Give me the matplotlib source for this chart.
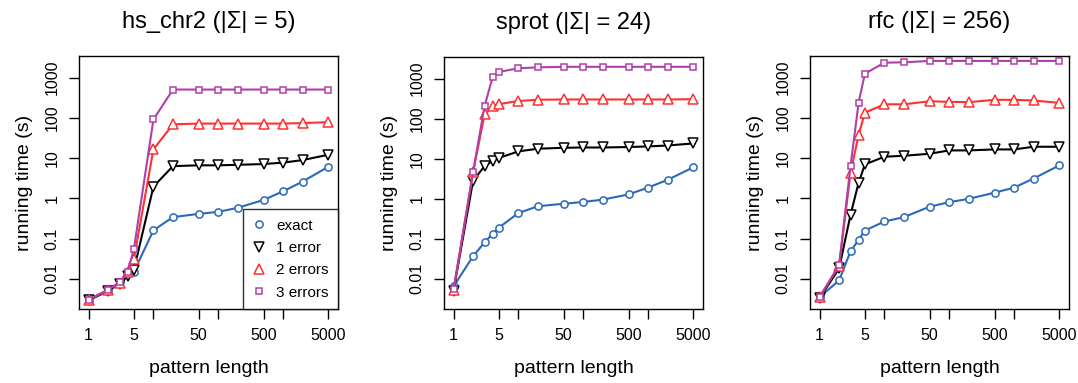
import numpy as np
import matplotlib
matplotlib.use("Agg")
import matplotlib.pyplot as plt
from matplotlib.ticker import FixedLocator, NullLocator, NullFormatter

plt.rcParams["font.family"] = ["Liberation Sans", "DejaVu Sans"]

lengths = [1, 2, 3, 4, 5, 10, 20, 50, 100, 200, 500, 1000, 2000, 5000]
titles = ["hs_chr2 (|Σ| = 5)", "sprot (|Σ| = 24)", "rfc (|Σ| = 256)"]
series_names = ["exact", "1 error", "2 errors", "3 errors"]

# running time (s) per panel, per series
hs_exact = [0.003, 0.0053, 0.0081, 0.0144, 0.015, 0.16, 0.34, 0.41, 0.46, 0.58, 0.91, 1.49, 2.6, 6.1]
hs_err1 = [0.0029, 0.005, 0.0075, 0.012, 0.0167, 1.95, 6.3, 6.6, 6.6, 6.8, 7.1, 7.7, 8.9, 12.1]
hs_err2 = [0.003, 0.0053, 0.008, 0.0145, 0.031, 16.4, 69, 72, 72, 72, 72, 72, 74, 78]
hs_err3 = [0.003, 0.0053, 0.0081, 0.015, 0.055, 91, 505, 505, 505, 505, 505, 505, 505, 505]

sp_exact = [0.0065, 0.037, 0.081, 0.135, 0.19, 0.44, 0.65, 0.75, 0.83, 0.95, 1.28, 1.9, 2.96, 6.1]
sp_err1 = [0.0051, 2.85, 6.45, 8.9, 10.4, 15.2, 17.7, 18.7, 19, 19, 19.5, 20.2, 21.3, 24]
sp_err2 = [0.0053, 4.6, 128, 203, 230, 275, 295, 300, 300, 300, 300, 300, 300, 305]
sp_err3 = [0.0055, 4.7, 203, 1080, 1460, 1800, 1900, 1960, 1960, 1960, 1960, 1960, 1960, 1960]

rf_exact = [0.0035, 0.0091, 0.048, 0.093, 0.158, 0.265, 0.34, 0.62, 0.80, 0.97, 1.38, 1.84, 3.1, 6.6]
rf_err1 = [0.0033, 0.018, 0.39, 2.45, 6.95, 10.8, 11.4, 12.8, 15.5, 15.5, 16.4, 16.4, 19.1, 19.1]
rf_err2 = [0.0035, 0.021, 4.3, 38, 135, 217, 217, 258, 250, 245, 280, 280, 270, 235]
rf_err3 = [0.0035, 0.022, 6.3, 240, 1255, 2350, 2400, 2600, 2600, 2600, 2600, 2600, 2600, 2600]

panels = [
    [hs_exact, hs_err1, hs_err2, hs_err3],
    [sp_exact, sp_err1, sp_err2, sp_err3],
    [rf_exact, rf_err1, rf_err2, rf_err3],
]

colors = ["#2a6ab8", "black", "#ff3030", "#b040a8"]
markers = ["o", "v", "^", "s"]
msizes = [5.2, 6.5, 6.5, 5.0]

W, H = 1078, 383
fig = plt.figure(figsize=(W / 100, H / 100), dpi=100)

# axes boxes in pixels: left, right, top, bottom
boxes = [(79, 338, 56, 309), (444, 703, 57, 309), (810, 1069, 56, 309)]

for p, (l, r, t, b) in enumerate(boxes):
    ax = fig.add_axes([l / W, 1 - b / H, (r - l) / W, (b - t) / H])
    for s in range(4):
        ax.plot(lengths, panels[p][s], color=colors[s], marker=markers[s],
                markersize=msizes[s], markerfacecolor="white", markeredgecolor=colors[s],
                markeredgewidth=1.1, linewidth=1.5, label=series_names[s])
    ax.set_xscale("log")
    ax.set_yscale("log")
    ax.set_xlim(10 ** -0.148, 10 ** 3.847)
    ax.set_ylim(0.00177, 3444)
    ax.xaxis.set_major_locator(FixedLocator([1, 5, 10, 50, 100, 500, 1000, 5000]))
    ax.set_xticklabels(["1", "5", "", "50", "", "500", "", "5000"])
    ax.xaxis.set_minor_locator(NullLocator())
    ax.xaxis.set_minor_formatter(NullFormatter())
    ax.yaxis.set_major_locator(FixedLocator([0.01, 0.1, 1, 10, 100, 1000]))
    ax.set_yticklabels(["0.01", "0.1", "1", "10", "100", "1000"], rotation=90, va="center")
    ax.yaxis.set_minor_locator(NullLocator())
    ax.tick_params(length=7, width=1, labelsize=11.5, pad=7)
    for sp in ax.spines.values():
        sp.set_linewidth(1)
    ax.set_xlabel("pattern length", fontsize=14, labelpad=12)
    ax.set_ylabel("running time (s)", fontsize=14, labelpad=8)
    ax.set_title(titles[p], fontsize=17, pad=20)
    if p == 0:
        leg = ax.legend(loc="lower right", fontsize=11, frameon=True, fancybox=False,
                        edgecolor="black", borderaxespad=0, handlelength=0.9,
                        handletextpad=0.7, labelspacing=0.55, borderpad=0.6)
        leg.get_frame().set_linewidth(1)
        for h in leg.legend_handles:
            h.set_linestyle("")

fig.savefig("out.png", dpi=100)
